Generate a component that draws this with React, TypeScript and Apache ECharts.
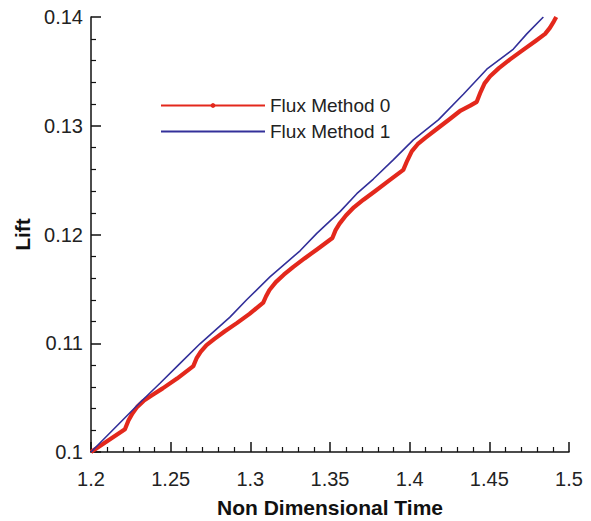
import React, { useEffect, useRef } from "react";
import * as echarts from "echarts";

const seriesNames = ["Flux Method 0", "Flux Method 1"];

const method0X = [
  1.2, 1.2213,
  1.2235, 1.226, 1.229, 1.233, 1.238, 1.245, 1.254, 1.2642,
  1.2662, 1.2688, 1.2725, 1.2775, 1.284, 1.2915, 1.2995, 1.3081,
  1.3098, 1.312, 1.316, 1.321, 1.327, 1.334, 1.342, 1.3515,
  1.3535, 1.356, 1.36, 1.365, 1.371, 1.378, 1.387, 1.396,
  1.3985, 1.4013, 1.405, 1.41, 1.417, 1.425, 1.432, 1.438, 1.4421,
  1.4445, 1.447, 1.4505, 1.456, 1.463, 1.471, 1.479, 1.485,
  1.488, 1.4905, 1.492,
];
const method0Y = [
  0.1, 0.1021,
  0.1029, 0.10355, 0.10415, 0.1047, 0.1052, 0.10585, 0.10675, 0.1079,
  0.1086, 0.1092, 0.10982, 0.1104, 0.1111, 0.11185, 0.1127, 0.11374,
  0.1143, 0.1149, 0.11562, 0.1163, 0.11702, 0.1178, 0.11865, 0.11968,
  0.1204, 0.121, 0.12175, 0.1225, 0.1232, 0.12395, 0.12495, 0.12594,
  0.1268, 0.12765, 0.1283, 0.1289, 0.1297, 0.1306, 0.1314, 0.13185, 0.1322,
  0.1331, 0.1339, 0.13455, 0.1353, 0.1361, 0.13695, 0.1378, 0.13845,
  0.139, 0.1396, 0.14,
];

const method1X = [
  1.2, 1.2308, 1.2433, 1.2559, 1.2684, 1.2872, 1.2977, 1.3123, 1.3312, 1.3417,
  1.3563, 1.3668, 1.3772, 1.3897, 1.4023, 1.418, 1.4337, 1.4484, 1.4651, 1.4735,
  1.4839,
];
const method1Y = [
  0.1, 0.10455, 0.10632, 0.10815, 0.10995, 0.1124, 0.114, 0.1161, 0.1185, 0.1201,
  0.1221, 0.12375, 0.1251, 0.12686, 0.1287, 0.13054, 0.1329, 0.1352, 0.13705, 0.13845,
  0.14,
];

const xTicks = { min: 1.2, max: 1.5, interval: 0.05 };
const yTicks = { min: 0.1, max: 0.14, interval: 0.01 };

const FONT = "'Liberation Sans', Arial, Helvetica, sans-serif";

export default function App() {
  const ref = useRef<HTMLDivElement>(null);
  useEffect(() => {
    if (!ref.current) return;
    const chart = echarts.init(ref.current, undefined, { renderer: "svg" });
    const pairs = (xs: number[], ys: number[]) => xs.map((x, i) => [x, ys[i]]);
    const axisCommon = {
      axisLine: { show: true, onZero: false, lineStyle: { color: "#111", width: 1.5 } },
      axisTick: { show: true, inside: true, length: 10, lineStyle: { color: "#111", width: 1.5 } },
      minorTick: { show: true, splitNumber: 5, length: 5, lineStyle: { color: "#111", width: 1.2 } },
      splitLine: { show: false },
      minorSplitLine: { show: false },
      axisLabel: { color: "#222", fontSize: 20, fontFamily: FONT },
      nameTextStyle: { color: "#111", fontSize: 21, fontWeight: "bold", fontFamily: FONT },
    };
    chart.setOption({
      animation: false,
      grid: { left: 91, right: 22, top: 17, bottom: 69, containLabel: false, outerBoundsMode: "none" },
      legend: {
        orient: "vertical",
        left: 155,
        top: 91,
        itemWidth: 104,
        itemHeight: 6,
        itemGap: 7,
        textStyle: { fontSize: 19, color: "#222", fontFamily: FONT },
        lineStyle: { width: 2 },
        data: [
          { name: seriesNames[0] },
          { name: seriesNames[1], itemStyle: { opacity: 0 } },
        ],
      },
      xAxis: {
        type: "value",
        ...xTicks,
        ...axisCommon,
        axisLabel: { ...axisCommon.axisLabel, margin: 17 },
        name: "Non Dimensional Time",
        nameLocation: "middle",
        nameGap: 45,
      },
      yAxis: {
        type: "value",
        ...yTicks,
        ...axisCommon,
        axisLabel: { ...axisCommon.axisLabel, margin: 8 },
        name: "Lift",
        nameLocation: "middle",
        nameGap: 50,
      },
      series: [
        {
          name: seriesNames[0],
          type: "line",
          data: pairs(method0X, method0Y),
          symbol: "circle",
          showSymbol: false,
          lineStyle: { color: "#e3281c", width: 4.2, join: "round" },
          itemStyle: { color: "#e3281c" },
          z: 2,
        },
        {
          name: seriesNames[1],
          type: "line",
          data: pairs(method1X, method1Y),
          symbol: "none",
          lineStyle: { color: "#33309a", width: 1.6 },
          itemStyle: { color: "#33309a" },
          z: 3,
        },
      ],
    });
    return () => chart.dispose();
  }, []);
  return (
    <div
      ref={ref}
      style={{ position: "fixed", left: 0, top: 0, width: 591, height: 521, background: "#fff" }}
    />
  );
}
